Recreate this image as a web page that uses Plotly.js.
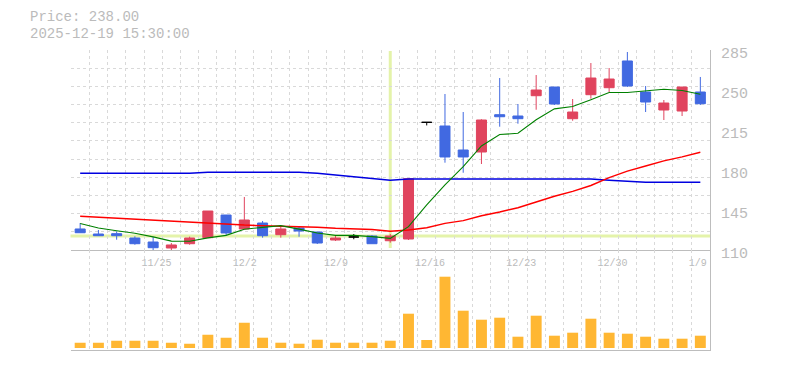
<!DOCTYPE html>
<html>
<head>
<meta charset="utf-8">
<script src="https://cdn.plot.ly/plotly-3.0.1.min.js"></script>
<style>html,body{margin:0;padding:0;background:#fff;}#chart{width:785px;height:370px;}</style>
</head>
<body>
<div id="chart"></div>
<script>
// ---- data ----
const dates = ['11/18','11/19','11/20','11/21','11/25','11/26','11/27','11/28','12/1','12/2','12/3','12/4','12/5','12/8','12/9','12/10','12/11','12/12','12/15','12/16','12/17','12/18','12/19','12/22','12/23','12/24','12/25','12/26','12/29','12/30','1/5','1/6','1/7','1/8','1/9'];
const tickLabels = ['11/25','12/2','12/9','12/16','12/23','12/30','1/9'];
const openP  = [128.4,124.0,124.3,120.5,117.0,111.75,115.5,120.8,140.6,128.4,133.6,123.4,129.25,125.75,118.75,121.4,122.25,118.1,119.6,221.7,218.5,197.5,195.75,228.4,227.25,245.0,252.6,224.9,245.9,252.0,275.4,248.25,232.5,231.6,248.25];
const highP  = [133.6,127.5,126.3,122.0,121.4,116.1,121.7,144.1,140.6,156.4,135.4,131.6,130.7,125.75,123.1,124.0,123.1,124.0,172.4,221.7,246.5,230.75,224.4,260.5,237.75,263.1,252.6,242.1,273.6,269.25,283.25,253.5,241.25,252.6,261.4];
const lowP   = [125.1,122.5,119.0,114.6,109.5,109.5,114.6,120.8,123.1,128.4,120.8,120.8,121.6,115.25,117.9,119.4,115.5,116.4,118.75,219.0,186.4,177.6,185.25,217.9,220.5,232.75,236.9,223.1,242.4,248.25,252.6,230.75,223.75,227.25,236.9];
const closeP = [125.1,122.5,122.5,115.5,112.0,114.4,120.5,144.1,124.9,136.25,122.5,128.4,126.6,116.1,120.5,121.4,115.5,122.25,172.4,221.7,191.4,191.4,223.75,226.6,224.9,250.0,237.75,230.75,260.5,259.6,253.5,239.5,238.6,252.6,238.0];
const ma5  = [133.2,129.2,126.9,124.6,121.5,117.8,117.6,120.6,122.8,128.2,129.8,131.3,128.3,124.9,122.8,122.8,121.7,120.2,130.4,149.4,166.9,182.9,201.0,211.0,212.1,224.0,233.5,235.5,241.5,247.8,247.8,249.1,250.6,249.5,246.3];
const ma25 = [139.5,138.6,137.7,136.9,136.0,135.0,134.2,133.4,132.6,131.8,131.3,131.0,130.5,129.9,129.0,128.4,128.0,126.5,127.5,129.5,133.3,135.7,140.0,143.3,147.0,152.0,157.0,161.3,166.5,173.3,179.0,183.5,188.0,191.5,195.5];
const ma75 = [177.1,177.1,177.1,177.1,177.1,177.1,177.1,178.0,178.0,178.0,178.0,178.0,178.0,177.1,175.6,174.4,172.8,171.0,172.1,172.1,172.1,172.1,172.1,172.1,172.1,172.7,172.1,172.1,172.1,171.0,170.1,169.2,169.2,169.2,169.2];
const volume = [5300,5300,7300,7300,7300,5300,4300,13300,10300,25300,10300,5300,4300,8300,5300,5300,5300,7300,34300,8000,71300,37300,28300,30300,11300,32300,12300,15300,29300,15300,14300,11300,9300,9300,12300];
const priceTicks = [110,145,180,215,250,285];
const cursorDate = '12/12';
const headerDate = '2025-12-19 15:30:00';

// ---- build ----
const idx = dates.map((d,i)=>i);
const RED = '#e0445e', BLUE = '#4169e1', BLACK = '#000000';
function pick(cond){ return idx.filter(cond); }
const upI = pick(i=>closeP[i]>openP[i]);
const dnI = pick(i=>closeP[i]<openP[i]);
const djI = pick(i=>closeP[i]===openP[i]);
function candle(ids, color){
  return {type:'candlestick', x:ids, open:ids.map(i=>openP[i]), high:ids.map(i=>highP[i]),
    low:ids.map(i=>lowP[i]), close:ids.map(i=>closeP[i]), xaxis:'x', yaxis:'y', whiskerwidth:0,
    increasing:{line:{color:color,width:1},fillcolor:color},
    decreasing:{line:{color:color,width:1},fillcolor:color}, hoverinfo:'skip'};
}
const mono = 'Liberation Mono, Courier New, monospace';
const gridVals = idx.map(i=>i-0.5);
const gridText = idx.map(i=>tickLabels.includes(dates[i]) ? dates[i] : '');
const cIdx = dates.indexOf(cursorDate);
const cPrice = closeP[cIdx];

const traces = [
  {type:'bar', x:idx, y:volume, xaxis:'x2', yaxis:'y2', width:0.6, marker:{color:'#ffb733', line:{width:0}}, hoverinfo:'skip'},
  {type:'scatter', mode:'lines', x:idx, y:ma75, xaxis:'x', yaxis:'y', line:{color:'#0000e0', width:1.5}, hoverinfo:'skip'},
  {type:'scatter', mode:'lines', x:idx, y:ma25, xaxis:'x', yaxis:'y', line:{color:'#ff0000', width:1.5}, hoverinfo:'skip'},
  {type:'scatter', mode:'lines', x:idx, y:ma5, xaxis:'x', yaxis:'y', line:{color:'#008000', width:1.1}, hoverinfo:'skip'},
  candle(upI, RED), candle(dnI, BLUE), candle(djI, BLACK),
  {type:'scatter', x:[], y:[], xaxis:'x', yaxis:'y3', hoverinfo:'skip'}
];

const W = 785, H = 370;
const xDom = [70.5/W, 710/W];
const layout = {
  width:W, height:H, margin:{l:0,r:0,t:0,b:0,autoexpand:false}, paper_bgcolor:'#fff', plot_bgcolor:'#fff',
  showlegend:false, hovermode:false, dragmode:false, boxgap:0.45, boxgroupgap:0,
  xaxis:{domain:xDom, anchor:'y', range:[-0.53, 34.53], rangeslider:{visible:false}, automargin:false,
    tickmode:'array', tickvals:gridVals, ticktext:gridText, ticklabelstandoff:3, ticklabelshift:-3,
    ticks:'', ticklabelposition:'outside right', showgrid:true, gridcolor:'#d9d9d9', griddash:'3px,3px', gridwidth:1,
    zeroline:false, showline:true, linecolor:'#bdbdbd', linewidth:1, tickfont:{family:mono, size:10, color:'#bbbbbb'}},
  xaxis2:{domain:xDom, anchor:'y2', matches:'x', automargin:false, tickmode:'array', tickvals:gridVals, showticklabels:false, ticks:'',
    showgrid:true, gridcolor:'#d9d9d9', griddash:'3px,3px', gridwidth:1, zeroline:false, showline:true, linecolor:'#bdbdbd', linewidth:1},
  yaxis:{domain:[1-250/H, 1-50/H], anchor:'x', side:'right', range:[110,285], tickmode:'array', tickvals:priceTicks, automargin:false,
    ticks:'', ticklabelstandoff:7, ticklabelshift:3, showgrid:false, zeroline:false, showline:true, linecolor:'#bdbdbd', linewidth:1,
    tickfont:{family:mono, size:15, color:'#bbbbbb'}},
  yaxis3:{overlaying:'y', anchor:'x', side:'left', range:[0,11], dtick:1, tick0:0, showticklabels:false, ticks:'', automargin:false,
    showgrid:true, gridcolor:'#d9d9d9', griddash:'3px,3px', gridwidth:1, zeroline:false, showline:false},
  yaxis2:{domain:[1-350/H, 1-250/H], anchor:'x2', side:'right', range:[-2000, 98000], showticklabels:false, ticks:'', automargin:false,
    showgrid:false, zeroline:false, showline:true, linecolor:'#bdbdbd', linewidth:1},
  shapes:[
    {type:'line', layer:'below', xref:'paper', yref:'y', x0:xDom[0], x1:xDom[1], y0:cPrice, y1:cPrice, line:{color:'#e4f3aa', width:3}},
    {type:'line', layer:'below', xref:'x', yref:'y domain', x0:cIdx, x1:cIdx, y0:0.01, y1:0.995, line:{color:'#e4f3aa', width:3}}
  ],
  annotations:[
    {xref:'paper', yref:'paper', x:29/W, y:1-17/H, xanchor:'left', yanchor:'middle', showarrow:false, borderpad:0,
      text:'Price: '+closeP[closeP.length-1].toFixed(2), font:{family:mono, size:14, color:'#bbbbbb'}},
    {xref:'paper', yref:'paper', x:29/W, y:1-34/H, xanchor:'left', yanchor:'middle', showarrow:false, borderpad:0,
      text:headerDate, font:{family:mono, size:14, color:'#bbbbbb'}}
  ]
};
Plotly.newPlot('chart', traces, layout, {staticPlot:true, displayModeBar:false});
</script>
</body>
</html>
